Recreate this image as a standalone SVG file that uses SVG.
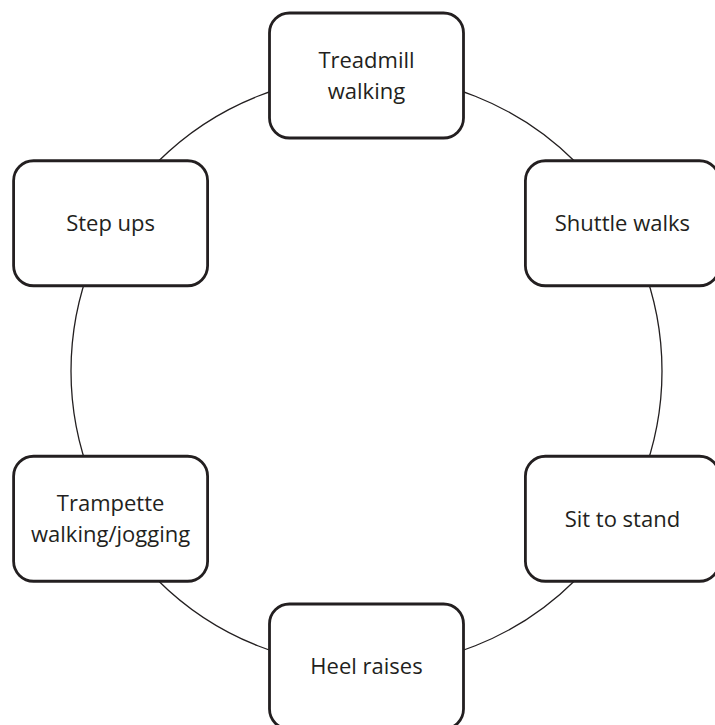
<svg xmlns="http://www.w3.org/2000/svg" width="715" height="725" viewBox="0 0 715 725">
<style>
.box{fill:#ffffff;stroke:#231f20;stroke-width:2.8}
.lbl{font-family:"Open Sans","Noto Sans","Liberation Sans",sans-serif;font-size:22px;fill:#231f20;text-anchor:middle}
.ring{fill:none;stroke:#231f20;stroke-width:1.3}
</style>
<rect x="0" y="0" width="715" height="725" fill="#ffffff"/>
<g id="connectors">
<circle class="ring" cx="366.5" cy="371" r="295.5"/>
</g>
<g id="node-treadmill">
<rect class="box" x="269.5" y="13" width="194" height="125" rx="20"/>
<text class="lbl" x="366.5" y="68.2">Treadmill</text>
<text class="lbl" x="366.5" y="98.8">walking</text>
</g>
<g id="node-shuttle">
<rect class="box" x="525.4" y="160.75" width="194" height="125" rx="20"/>
<text class="lbl" x="622.4" y="231">Shuttle walks</text>
</g>
<g id="node-sit">
<rect class="box" x="525.4" y="456.25" width="194" height="125" rx="20"/>
<text class="lbl" x="622.4" y="526.5">Sit to stand</text>
</g>
<g id="node-heel">
<rect class="box" x="269.5" y="604" width="194" height="125" rx="20"/>
<text class="lbl" x="366.5" y="674">Heel raises</text>
</g>
<g id="node-trampette">
<rect class="box" x="13.6" y="456.25" width="194" height="125" rx="20"/>
<text class="lbl" x="110.6" y="511.2">Trampette</text>
<text class="lbl" x="110.6" y="541.8">walking/jogging</text>
</g>
<g id="node-step">
<rect class="box" x="13.6" y="160.75" width="194" height="125" rx="20"/>
<text class="lbl" x="110.6" y="230.5">Step ups</text>
</g>
</svg>
